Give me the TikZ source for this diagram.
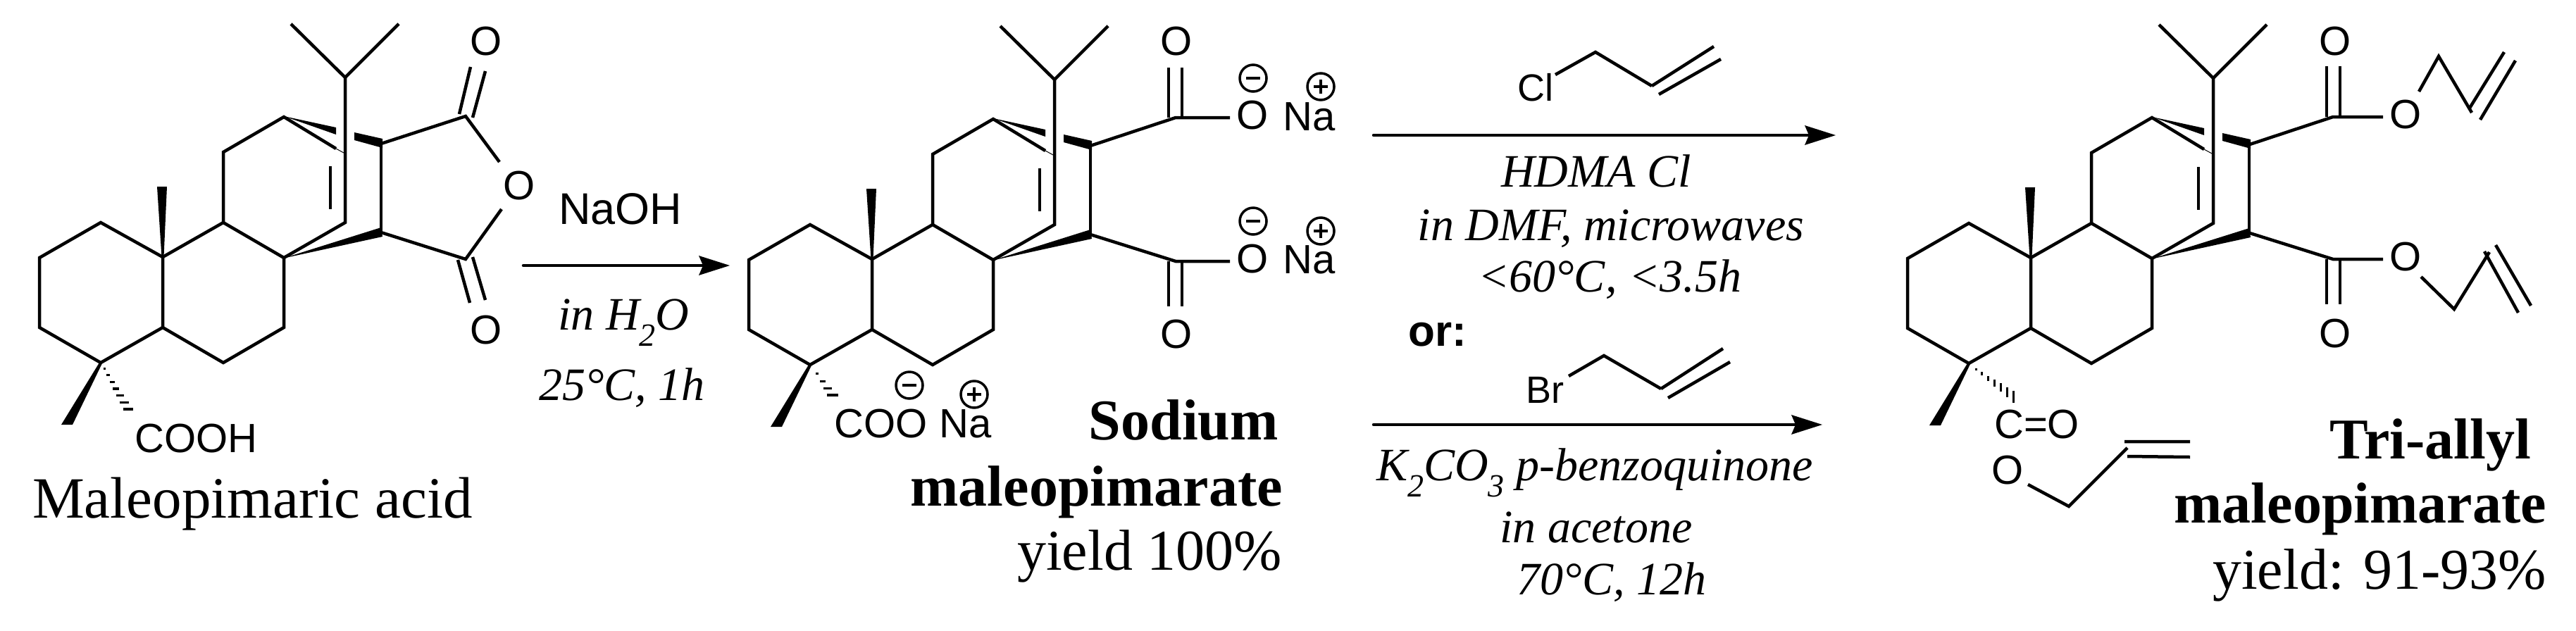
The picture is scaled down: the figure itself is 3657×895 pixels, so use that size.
\documentclass[tikz,border=0pt]{standalone}
\usepackage{fontspec}
\setmainfont{Liberation Serif}
\setsansfont{Liberation Sans}
\newcommand{\fsz}[1]{\fontsize{#1}{#1}\selectfont}
\newcommand{\subtwo}[1]{\raisebox{-0.36em}{\fsz{46}#1}}
\tikzset{
  bond/.style={line width=4.5pt,line join=miter,line cap=butt},
  chem/.style={inner sep=0pt,font=\sffamily\fsz{58}},
  rgt/.style={inner sep=0pt,font=\itshape\fsz{66}},
  title/.style={inner sep=0pt,font=\rmfamily\fsz{82}},
  btitle/.style={inner sep=0pt,font=\rmfamily\bfseries\fsz{82}},
  rxn/.style={line width=4.5pt,line cap=round}
}
\newcommand{\skeleton}{%
  \draw[bond] (56,366)--(143,316)--(231,365)--(231,465)--(143,515)--(56,465)--cycle;
  \draw[bond] (231,365)--(317,316)--(403,366)--(403,465)--(317,515)--(231,465);
  \draw[bond] (317,316)--(317,216)--(403,166)--(477,211);
  \draw[line width=1pt] (477,211)--(488,217);
  \draw[bond] (403,366)--(490,316)--(490,110);
  \draw[bond] (413,34)--(490,110)--(566,34);
  \draw[bond] (469,236)--(469,297);
  \draw[bond] (541,204)--(541,330);
  \fill (403,165)--(477,181)--(477,191)--cycle;
  \fill (503,188)--(543,197)--(543,210)--(503,199)--cycle;
  \fill (401,367)--(541,323)--(543,336)--cycle;
  \fill (223,265)--(237,265)--(232.5,365)--(229.5,365)--cycle;
  \fill (141,515)--(145,516)--(103,603)--(87,603)--cycle;
}
\newcommand{\arrowhead}[2]{%
  \fill (#1,#2) -- ++(-44,-14) -- ++(6,14) -- ++(-6,14) -- cycle;
}
\newcommand{\minusc}[2]{%
  \draw[line width=3.5pt] (#1,#2) circle (19);
  \draw[line width=3.5pt] (#1-10,#2)--(#1+10,#2);
}
\newcommand{\plusc}[2]{%
  \draw[line width=3.5pt] (#1,#2) circle (19);
  \draw[line width=3.5pt] (#1-10,#2)--(#1+10,#2) (#1,#2-10)--(#1,#2+10);
}
\begin{document}
\begin{tikzpicture}[x=1pt,y=-1pt]
\useasboundingbox (0,0) rectangle (3657,895);

% ---------- Maleopimaric acid
\begin{scope}
  \skeleton
\end{scope}
\draw[bond] (541,204)--(661,165)--(709,230);
\draw[bond] (541,330)--(661,368)--(712,297);
\draw[bond] (652,162)--(668,95) (671,167)--(689,101);
\draw[bond] (650,369)--(667,430) (671,365)--(689,426);
\node[chem] (a1) at (690,59) {O};
\node[chem] (a2) at (737,264) {O};
\node[chem] (a3) at (690,469) {O};
\foreach \t/\w in {0.13/1.5,0.27/2.5,0.42/3.5,0.56/4.5,0.71/5.5,0.85/6.5,1/7}
  \draw[line width=3.2pt] ({143+39*\t-\w},{515+66*\t})--({143+39*\t+\w},{515+66*\t});
\node[chem,anchor=base west] (a4) at (191,642) {COOH};
\node[title,font=\rmfamily\fsz{83},anchor=base west] (a5) at (46,735) {Maleopimaric acid};

% ---------- NaOH arrow
\node[chem,font=\sffamily\fsz{63},anchor=base west] (r1) at (793,318) {NaOH};
\draw[rxn] (743,377)--(1005,377);
\arrowhead{1036}{377}
\node[rgt,anchor=base west] (r2) at (792,468) {in H\subtwo{2}O};
\node[rgt,anchor=base west] (r3) at (765,568) {25°C, 1h};

% ---------- Sodium maleopimarate
\begin{scope}[shift={(1007,3)}]
  \skeleton
\end{scope}
\draw[bond] (1548,207)--(1669,167)--(1746,167);
\draw[bond] (1548,333)--(1669,371)--(1746,371);
\draw[bond] (1659,96)--(1659,167) (1678,96)--(1678,167);
\draw[bond] (1659,371)--(1659,435) (1678,371)--(1678,435);
\node[chem] (b1) at (1670,59) {O};
\node[chem] (b2) at (1778,164) {O};
\node[chem,anchor=base west] (b3) at (1821,185) {Na};
\node[chem] (b4) at (1670,475) {O};
\node[chem] (b5) at (1778,368) {O};
\node[chem,anchor=base west] (b6) at (1821,388) {Na};
\minusc{1779}{111}
\plusc{1875}{123}
\minusc{1779}{314}
\plusc{1875}{328}
\foreach \t/\w in {0.3/2,0.55/4,0.78/6,1/8}
  \draw[line width=3.2pt] ({1151+31*\t-\w},{517+44*\t})--({1151+31*\t+\w},{517+44*\t});
\node[chem,anchor=base west] (b7) at (1184,621) {COO};
\node[chem,anchor=base west] (b8) at (1333,621) {Na};
\minusc{1291}{547}
\plusc{1383}{560}
\node[btitle,anchor=base east] (b9) at (1815,624) {Sodium};
\node[btitle,anchor=base east] (b10) at (1821,718) {maleopimarate};
\node[title,anchor=base east] (b11) at (1820,809) {yield 100\%};

% ---------- Allyl reagents
\node[chem,font=\sffamily\fsz{54},anchor=base west] (c1) at (2154,143) {Cl};
\draw[bond] (2208,106)--(2265,74)--(2345,122);
\draw[bond] (2345,122)--(2433,66) (2355,134)--(2443,84);
\draw[rxn] (1950,192)--(2575,192);
\arrowhead{2606}{192}
\node[rgt,anchor=base] (c2) at (2266,265) {HDMA Cl};
\node[rgt,anchor=base] (c3) at (2287,341) {in DMF, microwaves};
\node[rgt,anchor=base] (c4) at (2285,414) {<60°C, <3.5h};
\node[chem,font=\sffamily\bfseries\fsz{62},anchor=base west] (c5) at (1999,491) {or:};
\node[chem,font=\sffamily\fsz{54},anchor=base west] (c6) at (2166,572) {Br};
\draw[bond] (2227,534)--(2277,505)--(2358,552);
\draw[bond] (2358,552)--(2446,495) (2368,565)--(2456,514);
\draw[rxn] (1950,603)--(2556,603);
\arrowhead{2587}{603}
\node[rgt,anchor=base] (c7) at (2264,682) {K\subtwo{2}CO\subtwo{3} p-benzoquinone};
\node[rgt,anchor=base] (c8) at (2266,770) {in acetone};
\node[rgt,anchor=base] (c9) at (2288,844) {70°C, 12h};

% ---------- Tri-allyl maleopimarate
\begin{scope}[shift={(2652,1)}]
  \skeleton
\end{scope}
\draw[bond] (3194,205)--(3312,166)--(3383,166);
\draw[bond] (3194,331)--(3312,368)--(3383,368);
\draw[bond] (3303,94)--(3303,166) (3322,94)--(3322,166);
\draw[bond] (3303,368)--(3303,432) (3322,368)--(3322,432);
\node[chem] (d1) at (3315.5,59) {O};
\node[chem] (d2) at (3415,163) {O};
\node[chem] (d3) at (3315.5,474) {O};
\node[chem] (d4) at (3415,365) {O};
\draw[bond] (3434,130)--(3462,80)--(3509,160);
\draw[bond] (3505,155)--(3555,74) (3521,170)--(3571,86);
\draw[bond] (3437,393)--(3484,439)--(3534,358);
\draw[bond] (3543,348)--(3593,434) (3527,357)--(3575,444);
\foreach \t/\h in {0.17/1.5,0.3/2.5,0.44/3.5,0.58/5,0.72/6,0.86/7,1/8.5}
  \draw[line width=3pt] ({2795+63*\t},{517+46*\t-\h})--({2795+63*\t},{517+46*\t+\h});
\node[chem,anchor=base west] (d5) at (2831,622) {C=O};
\node[chem] (d6) at (2850,668) {O};
\draw[bond] (2879,688)--(2937,719)--(3020,636);
\draw[bond] (3016,627)--(3109,627) (3020,648)--(3109,649);
\node[btitle,anchor=base east] (d7) at (3593,651) {Tri-allyl};
\node[btitle,anchor=base east] (d8) at (3615,742) {maleopimarate};
\node[title,anchor=base east] (d9) at (3615,836) {yield: 91-93\%};
\end{tikzpicture}
\end{document}
